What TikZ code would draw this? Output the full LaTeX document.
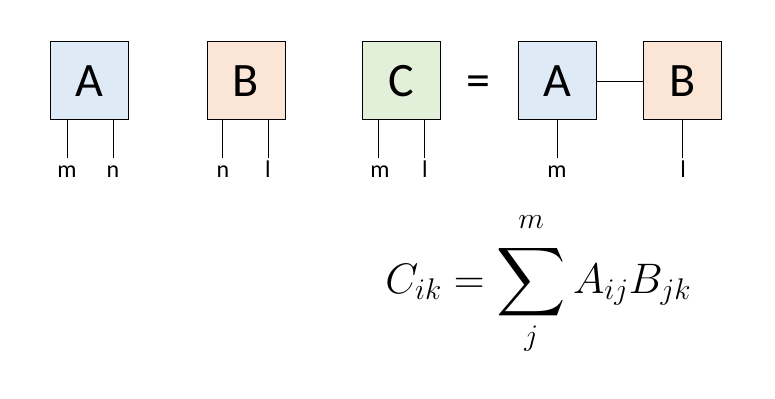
\RequirePackage{fix-cm}
\documentclass[tikz,border=0pt]{standalone}
\usepackage{amsmath}
\usepackage{exscale}
\usepackage{fontspec}
\setmainfont{Carlito}
\definecolor{fillA}{HTML}{DEEBF7}
\definecolor{fillB}{HTML}{FBE5D6}
\definecolor{fillC}{HTML}{E2F0D9}
\newcommand{\bigsumsign}{\mathop{\vcenter{\hbox{\scalebox{1.45}{$\displaystyle\sum$}}}}\limits}
\begin{document}
\begin{tikzpicture}[x=0.75pt,y=-0.75pt,
  tbox/.style={draw=black,line width=0.75pt,minimum size=58.5pt,inner sep=0pt,font=\fontsize{36}{40}\selectfont},
  leg/.style={line width=0.75pt},
  lbl/.style={anchor=base,inner sep=0pt,font=\fontsize{18}{21}\selectfont}]
\useasboundingbox (0,0) rectangle (775,399);
% tensors
\node[tbox,fill=fillA] (A1) at (89,81) {A};
\node[tbox,fill=fillB] (B1) at (246,81) {B};
\node[tbox,fill=fillC] (C1) at (401.5,81) {C};
\node[inner sep=0pt,font=\fontsize{36}{40}\selectfont] (eq) at (478,86) {=};
\node[tbox,fill=fillA] (A2) at (557.5,81) {A};
\node[tbox,fill=fillB] (B2) at (682.5,81) {B};
% leg ends
\coordinate (a1m) at (67,158);
\coordinate (a1n) at (113,158);
\coordinate (b1n) at (222,158);
\coordinate (b1l) at (268,158);
\coordinate (c1m) at (378,158);
\coordinate (c1l) at (424,158);
\coordinate (a2m) at (557,158);
\coordinate (b2l) at (682,158);
\draw[leg] (A1.south -| a1m) -- (a1m);
\draw[leg] (A1.south -| a1n) -- (a1n);
\draw[leg] (B1.south -| b1n) -- (b1n);
\draw[leg] (B1.south -| b1l) -- (b1l);
\draw[leg] (C1.south -| c1m) -- (c1m);
\draw[leg] (C1.south -| c1l) -- (c1l);
\draw[leg] (A2.south -| a2m) -- (a2m);
\draw[leg] (B2.south -| b2l) -- (b2l);
\draw[leg] (A2.east) ++(0,1) coordinate (ae) (ae) -- (ae -| B2.west);
% labels
\node[lbl] (la1m) at (67,178) {m};
\node[lbl] (la1n) at (113,178) {n};
\node[lbl] (lb1n) at (223,178) {n};
\node[lbl] (lb1l) at (268,178) {l};
\node[lbl] (lc1m) at (380,178) {m};
\node[lbl] (lc1l) at (425,178) {l};
\node[lbl] (la2m) at (557,178) {m};
\node[lbl] (lb2l) at (683,178) {l};
% formula
\node[anchor=base west,inner sep=0pt,font=\fontsize{32}{38}\selectfont] (eqn) at (385,293)
  {$\displaystyle C_{ik} = \bigsumsign_{j}^{m\rule[-9pt]{0pt}{9pt}} A_{ij}B_{jk}$};
\end{tikzpicture}
\end{document}
